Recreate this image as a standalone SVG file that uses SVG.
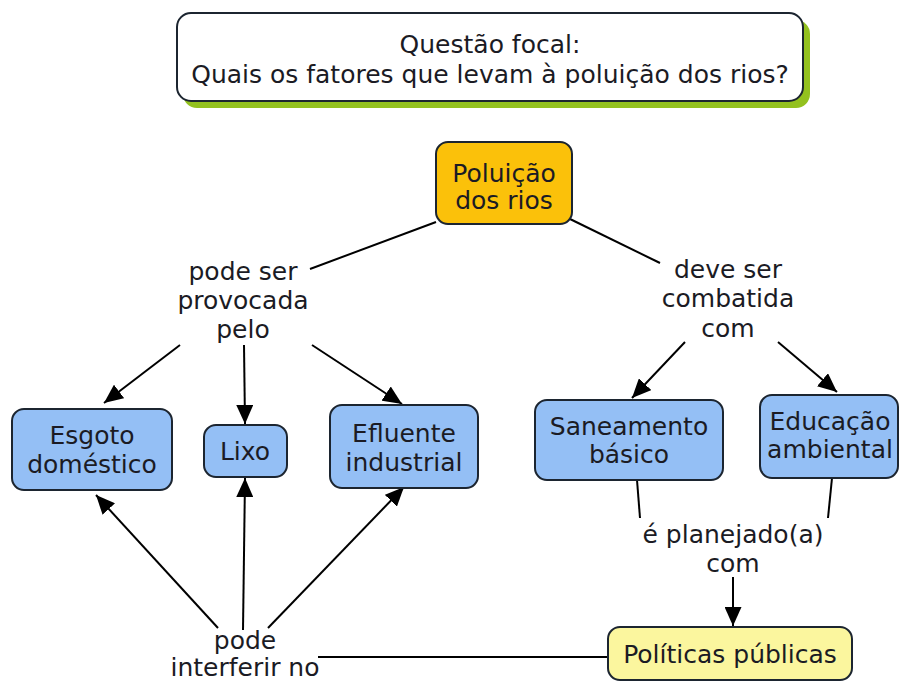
<svg xmlns="http://www.w3.org/2000/svg" width="902" height="682" viewBox="0 0 902 682">
<defs>
<marker id="ah" viewBox="0 0 10 10" refX="10" refY="5" markerWidth="19" markerHeight="17" markerUnits="userSpaceOnUse" orient="auto" preserveAspectRatio="none">
<path d="M0,0 L10,5 L0,10 z" fill="#000"/>
</marker>
<style>
text{font-family:"DejaVu Sans","Verdana",sans-serif;font-size:25px;fill:#1b1b24;text-anchor:middle}
.box{stroke:#1c2530;stroke-width:2}
.blue{fill:#94BFF5}
.orange{fill:#FBC10A}
.yellow{fill:#FBF69E}
.ln{stroke:#000;stroke-width:2;fill:none}
.arr{stroke:#000;stroke-width:2;fill:none;marker-end:url(#ah)}
</style>
</defs>
<rect width="902" height="682" fill="#fff"/>
<g id="connectors">
<line class="ln" x1="436" y1="222" x2="310" y2="269"/>
<line class="ln" x1="570" y1="219" x2="660" y2="263"/>
<line class="arr" x1="180" y1="345" x2="104" y2="403"/>
<path class="arr" d="M244,345 L245,424"/>
<line class="arr" x1="312" y1="345" x2="402" y2="404"/>
<line class="arr" x1="685" y1="342" x2="632" y2="398"/>
<line class="arr" x1="778" y1="342" x2="837" y2="392"/>
<line class="ln" x1="637" y1="480" x2="640" y2="518"/>
<line class="ln" x1="832" y1="478" x2="828" y2="518"/>
<line class="arr" x1="733" y1="577" x2="733" y2="626"/>
<line class="arr" x1="218" y1="628" x2="96" y2="495"/>
<path class="arr" d="M243,630 L245,478"/>
<line class="arr" x1="268" y1="628" x2="404" y2="487"/>
<line class="ln" x1="318" y1="657" x2="608" y2="657"/>
</g>
<g id="focal">
<rect x="183" y="20" width="627" height="88" rx="14" fill="#93C11F"/>
<rect class="box" x="177" y="13" width="626" height="88" rx="14" fill="#fff"/>
<text x="490" y="53">Questão focal:</text>
<text x="490" y="83">Quais os fatores que levam à poluição dos rios?</text>
</g>
<g id="poluicao">
<rect class="box orange" x="436" y="142" width="136" height="82" rx="12"/>
<text x="504" y="182">Poluição</text>
<text x="504" y="209">dos rios</text>
</g>
<g id="lbl-provocada">
<text x="243" y="280">pode ser</text>
<text x="243" y="309">provocada</text>
<text x="243" y="338">pelo</text>
</g>
<g id="lbl-combatida">
<text x="728" y="278">deve ser</text>
<text x="728" y="307">combatida</text>
<text x="728" y="337">com</text>
</g>
<g id="esgoto">
<rect class="box blue" x="12" y="409" width="160" height="81" rx="12"/>
<text x="92" y="444">Esgoto</text>
<text x="92" y="473">doméstico</text>
</g>
<g id="lixo">
<rect class="box blue" x="204" y="425" width="83" height="52" rx="12"/>
<text x="245" y="460">Lixo</text>
</g>
<g id="efluente">
<rect class="box blue" x="330" y="405" width="148" height="83" rx="12"/>
<text x="404" y="442">Efluente</text>
<text x="404" y="471">industrial</text>
</g>
<g id="saneamento">
<rect class="box blue" x="535" y="400" width="188" height="80" rx="12"/>
<text x="629" y="435">Saneamento</text>
<text x="629" y="463">básico</text>
</g>
<g id="educacao">
<rect class="box blue" x="760" y="395" width="138" height="83" rx="12"/>
<text x="830" y="430">Educação</text>
<text x="830" y="458">ambiental</text>
</g>
<g id="lbl-planejado">
<text x="733" y="543">é planejado(a)</text>
<text x="733" y="572">com</text>
</g>
<g id="politicas">
<rect class="box yellow" x="608" y="627" width="244" height="53" rx="12"/>
<text x="730" y="663">Políticas públicas</text>
</g>
<g id="lbl-interferir">
<text x="245" y="649">pode</text>
<text x="245" y="676">interferir no</text>
</g>
</svg>
